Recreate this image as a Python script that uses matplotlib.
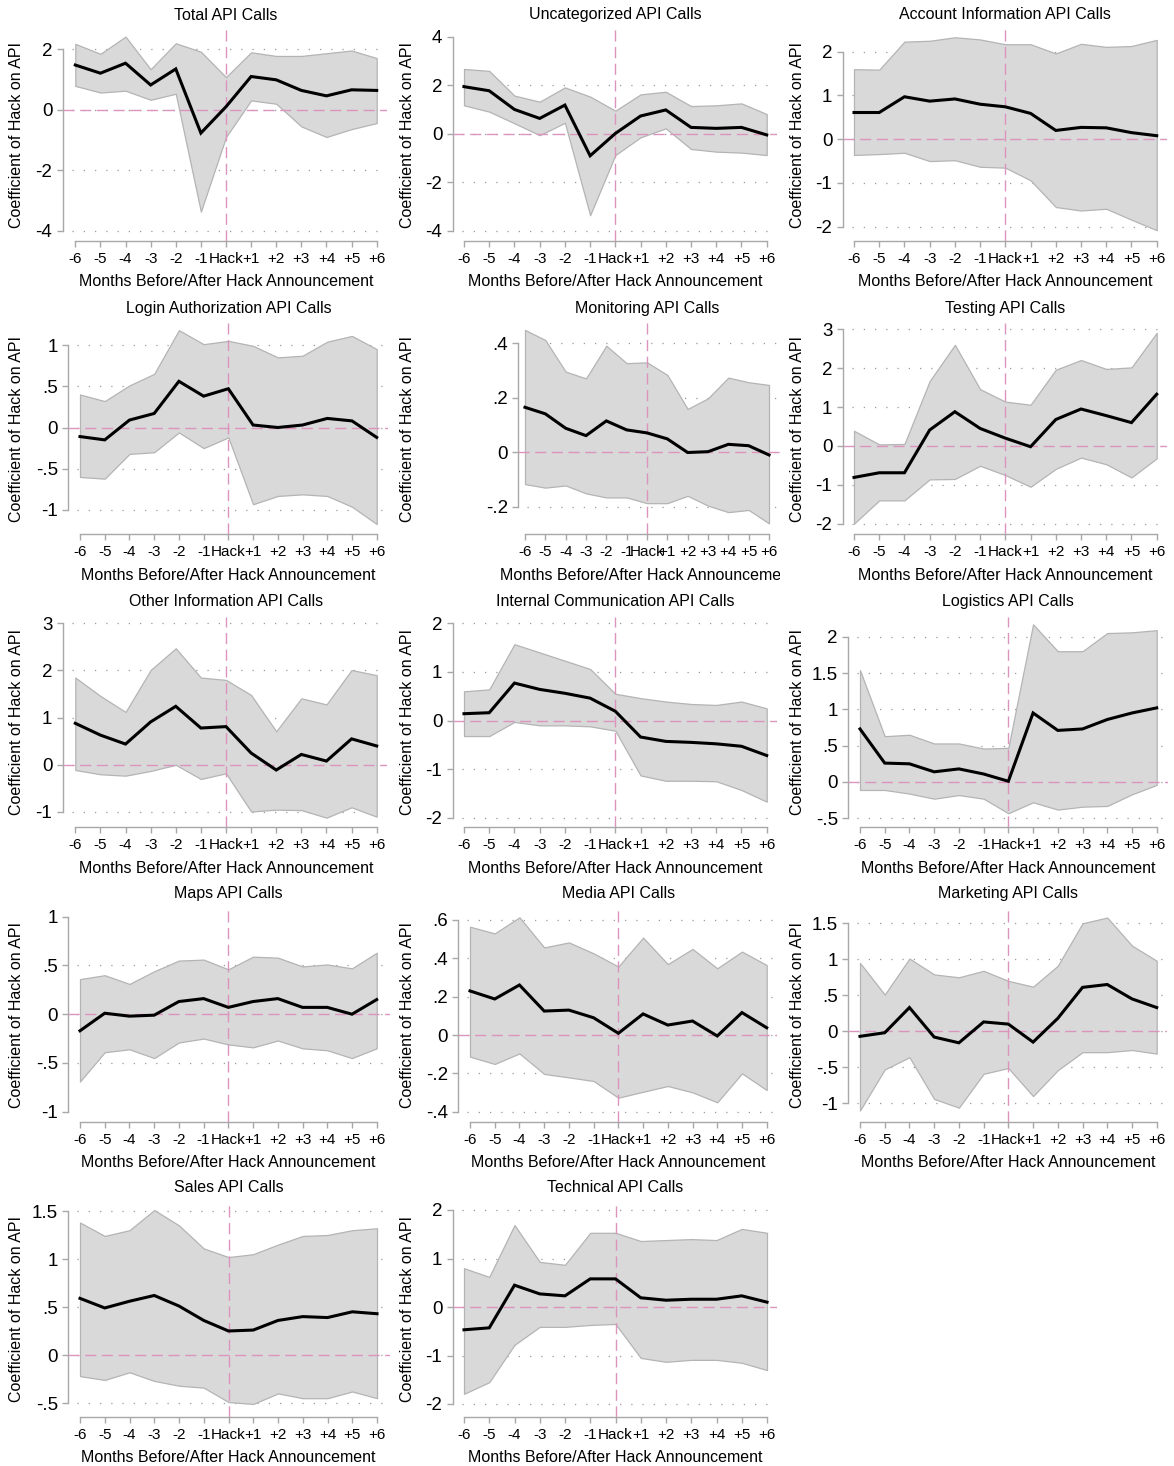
import matplotlib
matplotlib.use("Agg")
import matplotlib.pyplot as plt
from matplotlib.transforms import Bbox, TransformedBbox

plt.rcParams["font.family"] = ["Liberation Sans", "DejaVu Sans"]

W, H = 1174, 1466
months = [-6, -5, -4, -3, -2, -1, 0, 1, 2, 3, 4, 5, 6]
month_labels = ["-6", "-5", "-4", "-3", "-2", "-1", "Hack", "+1", "+2", "+3", "+4", "+5", "+6"]

# ---- estimates and 95% bands, by API category ----
total_coef = [1.48, 1.21, 1.54, 0.82, 1.35, -0.77, 0.10, 1.10, 0.99, 0.64, 0.46, 0.66, 0.64]
total_hi = [2.18, 1.85, 2.42, 1.34, 2.20, 1.92, 1.08, 1.90, 1.78, 1.78, 1.87, 1.96, 1.71]
total_lo = [0.79, 0.57, 0.63, 0.33, 0.53, -3.37, -0.90, 0.31, 0.20, -0.55, -0.90, -0.64, -0.44]

uncat_coef = [1.94, 1.77, 1.00, 0.63, 1.18, -0.91, 0.01, 0.73, 0.98, 0.26, 0.22, 0.26, -0.05]
uncat_hi = [2.67, 2.59, 1.57, 1.32, 1.91, 1.53, 0.95, 1.62, 1.73, 1.14, 1.17, 1.25, 0.81]
uncat_lo = [1.17, 0.91, 0.43, -0.06, 0.45, -3.36, -0.88, -0.15, 0.22, -0.63, -0.74, -0.78, -0.88]

account_coef = [0.61, 0.61, 0.97, 0.87, 0.92, 0.80, 0.74, 0.59, 0.20, 0.27, 0.26, 0.15, 0.08]
account_hi = [1.60, 1.59, 2.23, 2.25, 2.33, 2.28, 2.17, 2.17, 1.96, 2.18, 2.11, 2.13, 2.27]
account_lo = [-0.36, -0.34, -0.31, -0.50, -0.48, -0.63, -0.65, -0.94, -1.55, -1.63, -1.59, -1.84, -2.08]

login_coef = [-0.11, -0.15, 0.09, 0.17, 0.56, 0.38, 0.47, 0.03, 0.00, 0.03, 0.11, 0.08, -0.12]
login_hi = [0.40, 0.32, 0.51, 0.65, 1.18, 1.01, 1.05, 0.99, 0.85, 0.87, 1.04, 1.11, 0.95]
login_lo = [-0.60, -0.62, -0.32, -0.30, -0.06, -0.25, -0.12, -0.93, -0.83, -0.81, -0.83, -0.96, -1.17]

monitor_coef = [0.165, 0.141, 0.088, 0.061, 0.115, 0.082, 0.071, 0.049, -0.001, 0.002, 0.029, 0.024, -0.010]
monitor_hi = [0.449, 0.412, 0.296, 0.271, 0.391, 0.327, 0.330, 0.284, 0.159, 0.198, 0.274, 0.257, 0.247]
monitor_lo = [-0.117, -0.130, -0.122, -0.151, -0.166, -0.166, -0.187, -0.187, -0.160, -0.196, -0.220, -0.212, -0.261]

testing_coef = [-0.81, -0.69, -0.69, 0.41, 0.88, 0.45, 0.20, -0.02, 0.68, 0.95, 0.78, 0.60, 1.33]
testing_hi = [0.39, 0.04, 0.05, 1.67, 2.60, 1.46, 1.14, 1.06, 1.96, 2.21, 1.98, 2.02, 2.91]
testing_lo = [-2.00, -1.40, -1.40, -0.86, -0.85, -0.51, -0.75, -1.05, -0.59, -0.30, -0.47, -0.81, -0.32]

other_coef = [0.88, 0.63, 0.44, 0.91, 1.24, 0.78, 0.81, 0.25, -0.11, 0.22, 0.08, 0.55, 0.40]
other_hi = [1.85, 1.46, 1.12, 2.01, 2.47, 1.85, 1.80, 1.48, 0.71, 1.41, 1.28, 2.01, 1.90]
other_lo = [-0.11, -0.20, -0.23, -0.13, 0.00, -0.30, -0.18, -0.99, -0.95, -0.96, -1.12, -0.90, -1.10]

internal_coef = [0.14, 0.16, 0.77, 0.64, 0.56, 0.46, 0.19, -0.34, -0.43, -0.45, -0.48, -0.53, -0.72]
internal_hi = [0.60, 0.64, 1.57, 1.40, 1.23, 1.06, 0.55, 0.46, 0.39, 0.34, 0.32, 0.39, 0.25]
internal_lo = [-0.32, -0.32, -0.03, -0.10, -0.10, -0.12, -0.21, -1.13, -1.24, -1.24, -1.25, -1.43, -1.67]

logistics_coef = [0.73, 0.26, 0.25, 0.14, 0.18, 0.11, 0.01, 0.95, 0.71, 0.73, 0.86, 0.95, 1.02]
logistics_hi = [1.54, 0.63, 0.65, 0.53, 0.53, 0.46, 0.47, 2.17, 1.80, 1.80, 2.05, 2.06, 2.09]
logistics_lo = [-0.11, -0.11, -0.16, -0.23, -0.18, -0.23, -0.43, -0.28, -0.38, -0.34, -0.33, -0.17, -0.04]

maps_coef = [-0.17, 0.01, -0.02, -0.01, 0.13, 0.16, 0.07, 0.13, 0.16, 0.07, 0.07, 0.00, 0.15]
maps_hi = [0.36, 0.40, 0.31, 0.44, 0.55, 0.56, 0.46, 0.59, 0.58, 0.49, 0.51, 0.47, 0.63]
maps_lo = [-0.69, -0.39, -0.36, -0.45, -0.29, -0.25, -0.31, -0.34, -0.27, -0.35, -0.37, -0.45, -0.35]

media_coef = [0.230, 0.188, 0.261, 0.125, 0.130, 0.090, 0.009, 0.110, 0.052, 0.073, -0.005, 0.117, 0.038]
media_hi = [0.565, 0.530, 0.614, 0.457, 0.483, 0.426, 0.357, 0.508, 0.370, 0.449, 0.348, 0.435, 0.365]
media_lo = [-0.113, -0.151, -0.096, -0.203, -0.221, -0.240, -0.327, -0.296, -0.266, -0.299, -0.351, -0.200, -0.287]

marketing_coef = [-0.07, -0.02, 0.33, -0.08, -0.16, 0.13, 0.10, -0.15, 0.18, 0.61, 0.65, 0.45, 0.33]
marketing_hi = [0.95, 0.51, 1.01, 0.79, 0.75, 0.84, 0.70, 0.62, 0.91, 1.50, 1.58, 1.19, 0.98]
marketing_lo = [-1.10, -0.53, -0.36, -0.94, -1.06, -0.59, -0.51, -0.90, -0.54, -0.29, -0.29, -0.26, -0.31]

sales_coef = [0.59, 0.49, 0.56, 0.62, 0.51, 0.36, 0.25, 0.26, 0.36, 0.40, 0.39, 0.45, 0.43]
sales_hi = [1.38, 1.24, 1.30, 1.51, 1.35, 1.11, 1.02, 1.05, 1.15, 1.24, 1.25, 1.30, 1.32]
sales_lo = [-0.22, -0.26, -0.18, -0.27, -0.32, -0.34, -0.49, -0.51, -0.40, -0.45, -0.45, -0.38, -0.45]

technical_coef = [-0.47, -0.43, 0.45, 0.27, 0.23, 0.58, 0.58, 0.19, 0.14, 0.16, 0.16, 0.23, 0.10]
technical_hi = [0.80, 0.62, 1.69, 0.93, 0.87, 1.53, 1.53, 1.36, 1.38, 1.40, 1.38, 1.61, 1.53]
technical_lo = [-1.79, -1.55, -0.78, -0.41, -0.41, -0.37, -0.35, -1.05, -1.13, -1.09, -1.09, -1.15, -1.30]

titles = ["Total API Calls", "Uncategorized API Calls", "Account Information API Calls",
          "Login Authorization API Calls", "Monitoring API Calls", "Testing API Calls",
          "Other Information API Calls", "Internal Communication API Calls", "Logistics API Calls",
          "Maps API Calls", "Media API Calls", "Marketing API Calls",
          "Sales API Calls", "Technical API Calls"]

# y-axis tick values / labels for each panel
yticks = [[2, 0, -2, -4], [4, 2, 0, -2, -4], [2, 1, 0, -1, -2],
          [1, 0.5, 0, -0.5, -1], [0.4, 0.2, 0, -0.2], [3, 2, 1, 0, -1, -2],
          [3, 2, 1, 0, -1], [2, 1, 0, -1, -2], [2, 1.5, 1, 0.5, 0, -0.5],
          [1, 0.5, 0, -0.5, -1], [0.6, 0.4, 0.2, 0, -0.2, -0.4], [1.5, 1, 0.5, 0, -0.5, -1],
          [1.5, 1, 0.5, 0, -0.5], [2, 1, 0, -1, -2]]
ytick_labels = [["2", "0", "-2", "-4"], ["4", "2", "0", "-2", "-4"], ["2", "1", "0", "-1", "-2"],
                ["1", ".5", "0", "-.5", "-1"], [".4", ".2", "0", "-.2"], ["3", "2", "1", "0", "-1", "-2"],
                ["3", "2", "1", "0", "-1"], ["2", "1", "0", "-1", "-2"], ["2", "1.5", "1", ".5", "0", "-.5"],
                ["1", ".5", "0", "-.5", "-1"], [".6", ".4", ".2", "0", "-.2", "-.4"],
                ["1.5", "1", ".5", "0", "-.5", "-1"],
                ["1.5", "1", ".5", "0", "-.5"], ["2", "1", "0", "-1", "-2"]]
# grid lines shown in each panel
ygrids = [[2, 0, -2, -4], [2, 0, -2, -4], [2, 1, 0, -1, -2],
          [1, 0.5, 0, -0.5, -1], [0.4, 0.2, 0, -0.2], [3, 2, 1, 0, -1, -2],
          [3, 2, 1, 0, -1], [2, 1, 0, -1, -2], [2, 1.5, 1, 0.5, 0, -0.5],
          [0.5, 0, -0.5], [0.6, 0.4, 0.2, 0, -0.2, -0.4], [1.5, 1, 0.5, 0, -0.5, -1],
          [1.5, 1, 0.5, 0, -0.5], [2, 1, 0, -1, -2]]

series = [(total_coef, total_lo, total_hi), (uncat_coef, uncat_lo, uncat_hi),
          (account_coef, account_lo, account_hi), (login_coef, login_lo, login_hi),
          (monitor_coef, monitor_lo, monitor_hi), (testing_coef, testing_lo, testing_hi),
          (other_coef, other_lo, other_hi), (internal_coef, internal_lo, internal_hi),
          (logistics_coef, logistics_lo, logistics_hi), (maps_coef, maps_lo, maps_hi),
          (media_coef, media_lo, media_hi), (marketing_coef, marketing_lo, marketing_hi),
          (sales_coef, sales_lo, sales_hi), (technical_coef, technical_lo, technical_hi)]

# ---- panel layout in pixels ----
# (col_left, plot_left, plot_right, plot_top, plot_bottom, px_at_-6, px_at_+6, px_top_tick, px_bottom_tick)
layout = [
    (0, 62.7, 386.7, 30, 240.7, 75.3, 376.7, 49.3, 230.7),
    (390, 452.7, 776.7, 29, 240.7, 464, 766.7, 36.7, 230.7),
    (780, 842.7, 1166.7, 29.3, 240.7, 854, 1156.7, 51.7, 226.7),
    (0, 68.3, 388, 323, 534.3, 80, 376.7, 345, 510),
    (390, 518.3, 780, 323, 534.3, 525, 769, 343.3, 506.7),
    (780, 842.7, 1166.7, 323.3, 534.3, 854, 1156.7, 329.3, 523.7),
    (0, 62.7, 386.7, 616.7, 827.3, 75.3, 376.7, 623.3, 812),
    (390, 452.7, 776.7, 616.7, 827.3, 464, 766.7, 623.3, 817.7),
    (780, 848.3, 1168, 616.7, 827.3, 860, 1156.7, 636.7, 818.3),
    (0, 68.3, 390, 908.3, 1121.7, 80, 376.7, 916.7, 1111.7),
    (390, 458.3, 776.7, 908.3, 1121.7, 470, 766.7, 920, 1111.7),
    (780, 848.3, 1166.7, 908.3, 1121.7, 860, 1156.7, 923.3, 1103.3),
    (0, 68.3, 390, 1202, 1417, 80, 377, 1211, 1403),
    (390, 452.7, 776.7, 1202, 1417, 464, 767, 1210, 1404),
]

BAND = "#d9d9d9"
BAND_EDGE = "#b4b4b4"
AXIS = "#a8a8a8"
GRID = "#9a9a9a"
PINK = "#dc94bd"

fig = plt.figure(figsize=(W / 100, H / 100), dpi=100)


def fx(px):
    return px / W


def fy(py):
    return 1 - py / H


for i, (title, (coef, lo, hi)) in enumerate(zip(titles, series)):
    col_left, L, R, T, B, xa, xb, pt, pb = layout[i]
    vt, vb = max(yticks[i]), min(yticks[i])
    xs = (xb - xa) / 12.0
    ys = (pb - pt) / (vt - vb)
    xlim = (-6 - (xa - L) / xs, 6 + (R - xb) / xs)
    ylim = (vb - (B - pb) / ys, vt + (pt - T) / ys)

    ax = fig.add_axes([fx(L), fy(B), (R - L) / W, (B - T) / H])
    ax.set_xlim(*xlim)
    ax.set_ylim(*ylim)
    ax.patch.set_alpha(0)

    for g in ygrids[i]:
        ax.axhline(g, xmin=9.0 / (R - L), xmax=1, color=GRID, lw=0.9,
                   linestyle=(0, (1, 8)), zorder=1)

    ax.fill_between(months, lo, hi, facecolor=BAND, edgecolor=BAND_EDGE,
                    lw=0.9, zorder=2)
    ax.axhline(0, color=PINK, lw=1.0, linestyle=(0, (8, 4)), zorder=3)
    ax.axvline(0, color=PINK, lw=1.0, linestyle=(0, (8, 4)), zorder=3)
    ax.plot(months, coef, color="black", lw=2.2, zorder=4, solid_joinstyle="miter")

    for s in ("top", "right"):
        ax.spines[s].set_visible(False)
    ax.spines["left"].set_bounds(vb, vt)
    ax.spines["bottom"].set_bounds(-6, 6)
    for s in ("left", "bottom"):
        ax.spines[s].set_color(AXIS)
        ax.spines[s].set_linewidth(1.0)

    ax.set_xticks(months)
    ax.set_xticklabels(month_labels, fontsize=11)
    ax.set_yticks(yticks[i])
    ax.set_yticklabels(ytick_labels[i], fontsize=13.5)
    ax.tick_params(axis="both", color=AXIS, length=4.5, width=1.0)
    ax.tick_params(axis="x", pad=3.5)
    ax.tick_params(axis="y", pad=3)

    cx = (xa + xb) / 2.0
    fig.text(fx(cx), fy(T - 15), title, ha="center", va="center", fontsize=11.5)
    xl = fig.text(fx(cx), fy(B + 41), "Months Before/After Hack Announcement",
                  ha="center", va="center", fontsize=11.5)
    xl.set_clip_box(TransformedBbox(Bbox.from_extents(col_left / W, 0, (col_left + 390) / W, 1),
                                    fig.transFigure))
    xl.set_clip_on(True)
    fig.text(fx(col_left + 17), fy((T + B) / 2.0), "Coefficient of Hack on API",
             ha="center", va="center", rotation=90, fontsize=11.5)

fig.savefig("out.png", dpi=100, facecolor="white")
